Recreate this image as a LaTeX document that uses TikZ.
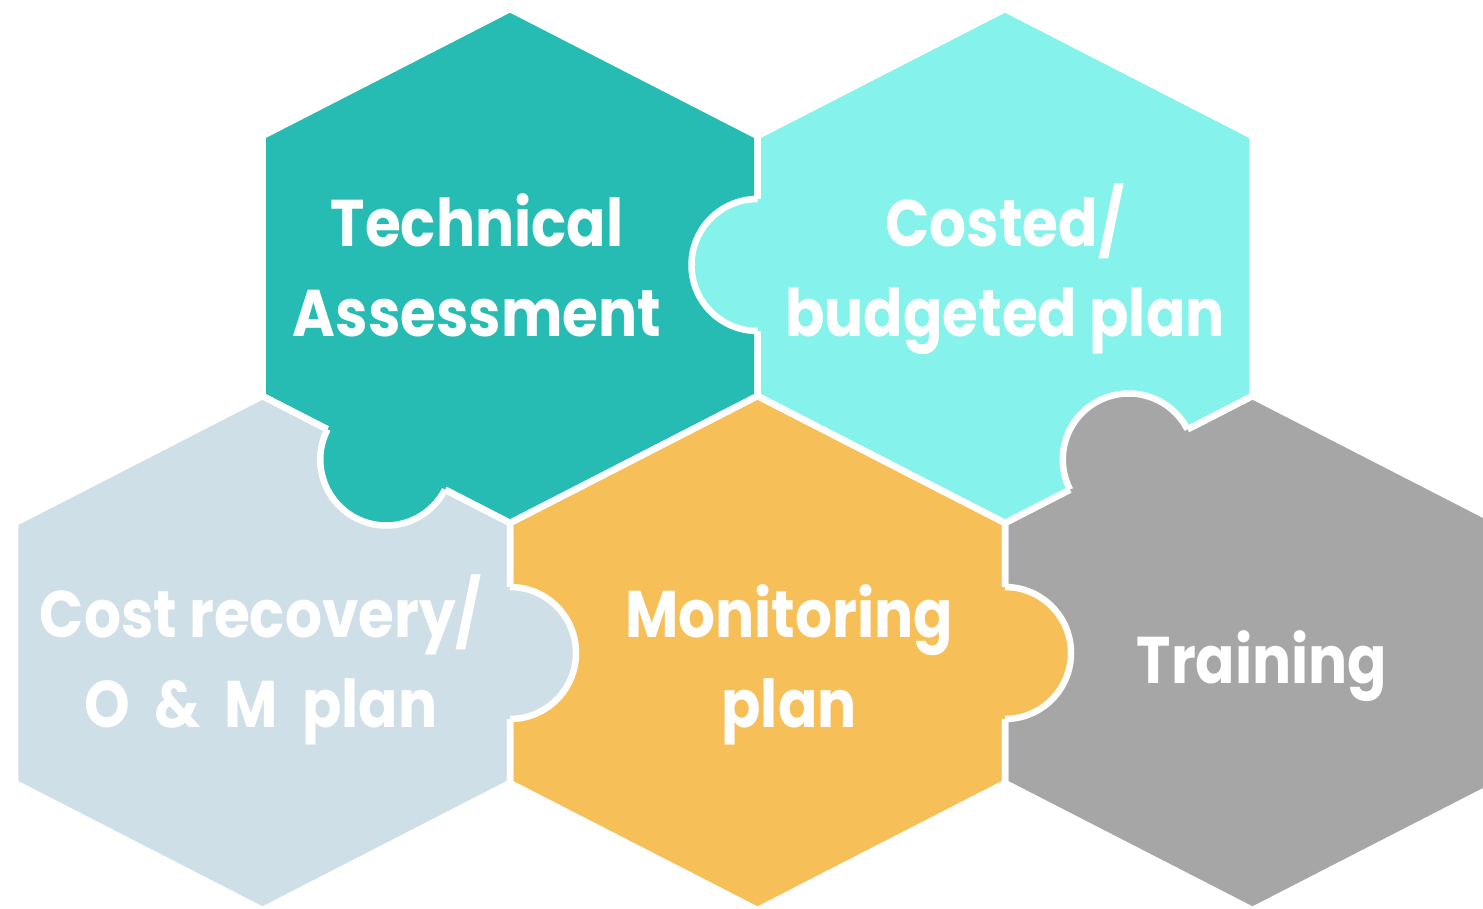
\documentclass[tikz,border=0pt]{standalone}
\usepackage{fontspec}
\newfontfamily\lblfont{Poppins}[FakeStretch=0.88]
\usetikzlibrary{calc}
\definecolor{tealc}{HTML}{27BCB3}
\definecolor{cyanc}{HTML}{86F2EC}
\definecolor{bluec}{HTML}{CFDFE8}
\definecolor{orangec}{HTML}{F7BF58}
\definecolor{greyc}{HTML}{A6A6A6}
\tikzset{
  sep/.style={draw=white, line width=6.5pt, line join=miter},
  lbl/.style={text=white, font=\lblfont\bfseries\fontsize{66}{90}\selectfont, align=center, anchor=base, inner sep=0pt},
}
\newcommand\hexpath[2]{(#1,#2) -- ++(247.5,127) -- ++(0,260) -- ++(-247.5,127) -- ++(-247.5,-127) -- ++(0,-260) -- cycle}
\newcommand\puzzletab[4]{%
  \fill[#4] ($(#1,#2)+(#3-90:66)$) arc[start angle=#3-90, end angle=#3+90, radius=66]
     -- ($(#1,#2)+(#3+90:66)+(#3+180:6)$) -- ($(#1,#2)+(#3-90:66)+(#3+180:6)$) -- cycle;
  \draw[white, line width=6.5pt] ($(#1,#2)+(#3-90:66)$) arc[start angle=#3-90, end angle=#3+90, radius=66];
}
\begin{document}
\begin{tikzpicture}[x=1pt, y=-1pt]
\useasboundingbox (0,0) rectangle (1483,909);
\clip (0,0) rectangle (1483,909);
\fill[white] (0,0) rectangle (1483,909);
% hexagons
\fill[tealc] \hexpath{510}{9};
\fill[cyanc] \hexpath{1005}{9};
\fill[bluec] \hexpath{262.5}{396};
\fill[orangec] \hexpath{757.5}{396};
\fill[greyc] \hexpath{1252.5}{396};
\draw[sep] \hexpath{510}{9};
\draw[sep] \hexpath{1005}{9};
\draw[sep] \hexpath{262.5}{396};
\draw[sep] \hexpath{757.5}{396};
\draw[sep] \hexpath{1252.5}{396};
% puzzle tabs
\puzzletab{757.5}{265}{180}{cyanc}
\puzzletab{386.25}{459.5}{117.2}{tealc}
\puzzletab{1128.75}{459.5}{242.8}{greyc}
\puzzletab{510}{653}{0}{bluec}
\puzzletab{1005}{653}{0}{orangec}
% labels
\node[lbl] (ta) at (477,337) {Technical\\Assessment};
\node[lbl] (cb) at (1005,337) {Costed/\\budgeted plan};
\node[lbl] (cr) at (261,727) {Cost recovery/\\O\hspace{24pt}\&\hspace{24pt}M\hspace{24pt}plan};
\node[lbl] (mp) at (789,727) {Monitoring\\plan};
\node[lbl] (tr) at (1262,683) {Training};
\end{tikzpicture}
\end{document}
